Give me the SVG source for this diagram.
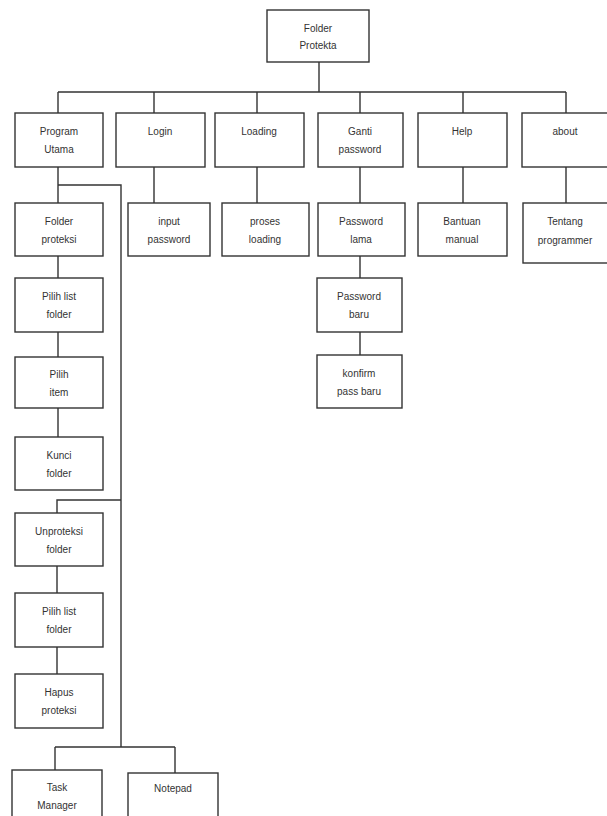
<svg xmlns="http://www.w3.org/2000/svg" width="607" height="816" viewBox="0 0 607 816">
<style>
.b{fill:#fff;stroke:#333;stroke-width:1.4}
.t{font-family:"Liberation Sans",Arial,sans-serif;font-size:10px;fill:#333;text-anchor:middle}
.c{fill:none;stroke:#333;stroke-width:1.4}
</style>
<rect width="607" height="816" fill="#fff"/>
<g id="connectors">
<path class="c" d="M319 62V92M58 92H566M58 92V113M154 92V113M257 92V113M360 92V113M463 92V113M566 92V113"/>
<path class="c" d="M58 167V203M154 167V203M257 167V203M360 167V203M463 167V203M566 167V203"/>
<path class="c" d="M58 185H121V747M58 256V278M58 332V357M58 408V437M121 500H57V513M57 566V593M57 647V674"/>
<path class="c" d="M360 256V278M360 332V355"/>
<path class="c" d="M55 747H175M55 747V770M175 747V773"/>
</g>
<g id="root"><rect class="b" x="267" y="10" width="102" height="52"/><text class="t" x="318" y="32">Folder</text><text class="t" x="318" y="49">Protekta</text></g>
<g id="program-utama"><rect class="b" x="15" y="113" width="88" height="54"/><text class="t" x="59" y="135">Program</text><text class="t" x="59" y="153">Utama</text></g>
<g id="login"><rect class="b" x="116" y="113" width="89" height="54"/><text class="t" x="160" y="135">Login</text></g>
<g id="loading"><rect class="b" x="215" y="113" width="89" height="54"/><text class="t" x="259" y="135">Loading</text></g>
<g id="ganti-password"><rect class="b" x="318" y="113" width="85" height="54"/><text class="t" x="360" y="135">Ganti</text><text class="t" x="360" y="153">password</text></g>
<g id="help"><rect class="b" x="418" y="113" width="89" height="54"/><text class="t" x="462" y="135">Help</text></g>
<g id="about"><rect class="b" x="522" y="113" width="90" height="54"/><text class="t" x="565" y="135">about</text></g>
<g id="folder-proteksi"><rect class="b" x="15" y="203" width="88" height="53"/><text class="t" x="59" y="225">Folder</text><text class="t" x="59" y="243">proteksi</text></g>
<g id="input-password"><rect class="b" x="128" y="203" width="82" height="53"/><text class="t" x="169" y="225">input</text><text class="t" x="169" y="243">password</text></g>
<g id="proses-loading"><rect class="b" x="222" y="203" width="87" height="53"/><text class="t" x="265" y="225">proses</text><text class="t" x="265" y="243">loading</text></g>
<g id="password-lama"><rect class="b" x="318" y="203" width="87" height="53"/><text class="t" x="361" y="225">Password</text><text class="t" x="361" y="243">lama</text></g>
<g id="bantuan-manual"><rect class="b" x="418" y="203" width="89" height="53"/><text class="t" x="462" y="225">Bantuan</text><text class="t" x="462" y="243">manual</text></g>
<g id="tentang-programmer"><rect class="b" x="523" y="203" width="90" height="60"/><text class="t" x="565" y="225">Tentang</text><text class="t" x="565" y="244">programmer</text></g>
<g id="password-baru"><rect class="b" x="317" y="278" width="85" height="54"/><text class="t" x="359" y="300">Password</text><text class="t" x="359" y="318">baru</text></g>
<g id="konfirm-pass-baru"><rect class="b" x="317" y="355" width="85" height="53"/><text class="t" x="359" y="377">konfirm</text><text class="t" x="359" y="395">pass baru</text></g>
<g id="pilih-list-folder-1"><rect class="b" x="15" y="278" width="88" height="54"/><text class="t" x="59" y="300">Pilih list</text><text class="t" x="59" y="318">folder</text></g>
<g id="pilih-item"><rect class="b" x="15" y="357" width="88" height="51"/><text class="t" x="59" y="378">Pilih</text><text class="t" x="59" y="396">item</text></g>
<g id="kunci-folder"><rect class="b" x="15" y="437" width="88" height="53"/><text class="t" x="59" y="459">Kunci</text><text class="t" x="59" y="477">folder</text></g>
<g id="unproteksi-folder"><rect class="b" x="15" y="513" width="88" height="53"/><text class="t" x="59" y="535">Unproteksi</text><text class="t" x="59" y="553">folder</text></g>
<g id="pilih-list-folder-2"><rect class="b" x="15" y="593" width="88" height="54"/><text class="t" x="59" y="615">Pilih list</text><text class="t" x="59" y="633">folder</text></g>
<g id="hapus-proteksi"><rect class="b" x="15" y="674" width="88" height="54"/><text class="t" x="59" y="696">Hapus</text><text class="t" x="59" y="714">proteksi</text></g>
<g id="task-manager"><rect class="b" x="12" y="770" width="90" height="60"/><text class="t" x="57" y="791">Task</text><text class="t" x="57" y="809">Manager</text></g>
<g id="notepad"><rect class="b" x="128" y="773" width="90" height="60"/><text class="t" x="173" y="792">Notepad</text></g>
</svg>
